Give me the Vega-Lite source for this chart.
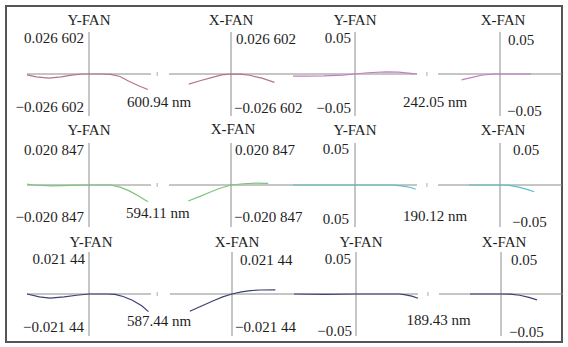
{
"$schema": "https://vega.github.io/schema/vega-lite/v6.json",
"width": 556, "height": 336,
"autosize": {"type": "none"},
"padding": {"left": 6, "top": 6, "right": 6, "bottom": 5},
"background": "white",
"datasets": {
"panels": [
{"panel":"1a","fan":"Y-FAN","ymax":0.026602,"ymin":-0.026602,"top":"0.026 602","bottom":"−0.026 602","wave":"600.94 nm"},
{"panel":"1b","fan":"X-FAN","ymax":0.026602,"ymin":-0.026602,"top":"0.026 602","bottom":"−0.026 602"},
{"panel":"1c","fan":"Y-FAN","ymax":0.05,"ymin":-0.05,"top":"0.05","bottom":"−0.05","wave":"242.05 nm"},
{"panel":"1d","fan":"X-FAN","ymax":0.05,"ymin":-0.05,"top":"0.05","bottom":"−0.05"},
{"panel":"2a","fan":"Y-FAN","ymax":0.020847,"ymin":-0.020847,"top":"0.020 847","bottom":"−0.020 847","wave":"594.11 nm"},
{"panel":"2b","fan":"X-FAN","ymax":0.020847,"ymin":-0.020847,"top":"0.020 847","bottom":"−0.020 847"},
{"panel":"2c","fan":"Y-FAN","ymax":0.05,"ymin":-0.05,"top":"0.05","bottom":"0.05","wave":"190.12 nm"},
{"panel":"2d","fan":"X-FAN","ymax":0.05,"ymin":-0.05,"top":"0.05","bottom":"−0.05"},
{"panel":"3a","fan":"Y-FAN","ymax":0.02144,"ymin":-0.02144,"top":"0.021 44","bottom":"−0.021 44","wave":"587.44 nm"},
{"panel":"3b","fan":"X-FAN","ymax":0.02144,"ymin":-0.02144,"top":"0.021 44","bottom":"−0.021 44"},
{"panel":"3c","fan":"Y-FAN","ymax":0.05,"ymin":-0.05,"top":"0.05","bottom":"−0.05","wave":"189.43 nm"},
{"panel":"3d","fan":"X-FAN","ymax":0.05,"ymin":-0.05,"top":"0.05","bottom":"−0.05"}
],
"curves": [
{"panel":"1a","px":-1,"ey":-0.00053},{"panel":"1a","px":-0.85,"ey":-0.00186},{"panel":"1a","px":-0.65,"ey":-0.00266},{"panel":"1a","px":-0.45,"ey":-0.00186},{"panel":"1a","px":-0.25,"ey":-0.00053},{"panel":"1a","px":-0.1,"ey":0},{"panel":"1a","px":0,"ey":0},{"panel":"1a","px":0.2,"ey":0},{"panel":"1a","px":0.35,"ey":-0.00027},{"panel":"1a","px":0.5,"ey":-0.0016},{"panel":"1a","px":0.65,"ey":-0.00479},{"panel":"1a","px":0.8,"ey":-0.00745},{"panel":"1a","px":0.95,"ey":-0.00984},
{"panel":"1b","px":-0.68,"ey":-0.00638},{"panel":"1b","px":-0.5,"ey":-0.00426},{"panel":"1b","px":-0.3,"ey":-0.00213},{"panel":"1b","px":-0.15,"ey":-0.00053},{"panel":"1b","px":0,"ey":0},{"panel":"1b","px":0.15,"ey":-0.00013},{"panel":"1b","px":0.3,"ey":-0.0008},{"panel":"1b","px":0.5,"ey":-0.00266},{"panel":"1b","px":0.7,"ey":-0.00532},
{"panel":"1c","px":-1,"ey":-0.0025},{"panel":"1c","px":-0.8,"ey":-0.0025},{"panel":"1c","px":-0.5,"ey":-0.00225},{"panel":"1c","px":-0.2,"ey":-0.00125},{"panel":"1c","px":0,"ey":0},{"panel":"1c","px":0.2,"ey":0.0015},{"panel":"1c","px":0.5,"ey":0.0025},{"panel":"1c","px":0.7,"ey":0.00225},{"panel":"1c","px":0.9,"ey":0.00075},{"panel":"1c","px":1,"ey":0},
{"panel":"1d","px":-0.62,"ey":-0.007},{"panel":"1d","px":-0.45,"ey":-0.004},{"panel":"1d","px":-0.3,"ey":-0.0015},{"panel":"1d","px":-0.1,"ey":0},{"panel":"1d","px":0,"ey":0},{"panel":"1d","px":0.5,"ey":0},
{"panel":"2a","px":-1,"ey":0.00042},{"panel":"2a","px":-0.9,"ey":0},{"panel":"2a","px":-0.6,"ey":-0.00042},{"panel":"2a","px":-0.3,"ey":-0.00021},{"panel":"2a","px":0,"ey":0},{"panel":"2a","px":0.35,"ey":0},{"panel":"2a","px":0.5,"ey":-0.00104},{"panel":"2a","px":0.65,"ey":-0.00292},{"panel":"2a","px":0.8,"ey":-0.00542},{"panel":"2a","px":0.95,"ey":-0.00834},
{"panel":"2b","px":-0.69,"ey":-0.00792},{"panel":"2b","px":-0.5,"ey":-0.00563},{"panel":"2b","px":-0.35,"ey":-0.00375},{"panel":"2b","px":-0.2,"ey":-0.00188},{"panel":"2b","px":0,"ey":0},{"panel":"2b","px":0.2,"ey":0.00063},{"panel":"2b","px":0.4,"ey":0.00094},{"panel":"2b","px":0.6,"ey":0.00083},
{"panel":"2c","px":-1,"ey":0},{"panel":"2c","px":0,"ey":0},{"panel":"2c","px":0.6,"ey":0},{"panel":"2c","px":0.75,"ey":-0.001},{"panel":"2c","px":0.9,"ey":-0.003},{"panel":"2c","px":0.98,"ey":-0.005},
{"panel":"2d","px":-0.5,"ey":0},{"panel":"2d","px":0,"ey":0},{"panel":"2d","px":0.15,"ey":-0.0005},{"panel":"2d","px":0.3,"ey":-0.0025},{"panel":"2d","px":0.45,"ey":-0.0055},{"panel":"2d","px":0.55,"ey":-0.008},
{"panel":"3a","px":-1,"ey":0},{"panel":"3a","px":-0.8,"ey":-0.0015},{"panel":"3a","px":-0.63,"ey":-0.00214},{"panel":"3a","px":-0.4,"ey":-0.0015},{"panel":"3a","px":-0.2,"ey":-0.00064},{"panel":"3a","px":0,"ey":0},{"panel":"3a","px":0.3,"ey":0},{"panel":"3a","px":0.42,"ey":-0.00021},{"panel":"3a","px":0.55,"ey":-0.00129},{"panel":"3a","px":0.7,"ey":-0.00322},{"panel":"3a","px":0.85,"ey":-0.006},{"panel":"3a","px":0.96,"ey":-0.009},
{"panel":"3b","px":-0.68,"ey":-0.00879},{"panel":"3b","px":-0.5,"ey":-0.00622},{"panel":"3b","px":-0.3,"ey":-0.00343},{"panel":"3b","px":-0.15,"ey":-0.0015},{"panel":"3b","px":0,"ey":0},{"panel":"3b","px":0.15,"ey":0.00107},{"panel":"3b","px":0.3,"ey":0.00172},{"panel":"3b","px":0.45,"ey":0.00204},{"panel":"3b","px":0.7,"ey":0.00214},
{"panel":"3c","px":-1,"ey":0},{"panel":"3c","px":-0.5,"ey":-0.0005},{"panel":"3c","px":0,"ey":0},{"panel":"3c","px":0.7,"ey":0},{"panel":"3c","px":0.8,"ey":-0.001},{"panel":"3c","px":0.9,"ey":-0.0025},{"panel":"3c","px":1,"ey":-0.005},
{"panel":"3d","px":-0.5,"ey":0},{"panel":"3d","px":0,"ey":0},{"panel":"3d","px":0.15,"ey":-0.00025},{"panel":"3d","px":0.3,"ey":-0.0015},{"panel":"3d","px":0.45,"ey":-0.004},{"panel":"3d","px":0.58,"ey":-0.007}
]
},
"layer": [
{"data":{"name":"panels"},"transform":[{"filter":"datum.panel=='1a'"}],"layer":[
 {"mark":{"type":"rule","color":"#8c8c8c"},"encoding":{"x":{"datum":-1,"type":"quantitative","scale":{"domain":[-1,1],"range":[21,145],"nice":false}},"x2":{"datum":1},"y":{"datum":0,"type":"quantitative","scale":{"domain":[-0.026602,0.026602],"range":[110,26],"nice":false}}}},
 {"mark":{"type":"rule","color":"#8c8c8c"},"encoding":{"x":{"datum":0},"y":{"field":"ymin","type":"quantitative"},"y2":{"field":"ymax"}}},
 {"mark":{"type":"tick","orient":"vertical","size":4,"thickness":1,"color":"#888888"},"encoding":{"x":{"datum":1.1},"y":{"datum":0}}},
 {"data":{"name":"curves"},"transform":[{"filter":"datum.panel=='1a'"}],"mark":{"type":"line","color":"#b5738a","strokeWidth":1.2},"encoding":{"x":{"field":"px","type":"quantitative"},"y":{"field":"ey","type":"quantitative"}}},
 {"mark":{"type":"text","dy":-12},"encoding":{"x":{"datum":0},"y":{"field":"ymax","type":"quantitative"},"text":{"field":"fan"}}},
 {"mark":{"type":"text","align":"right","dx":-5,"dy":6},"encoding":{"x":{"datum":0},"y":{"field":"ymax","type":"quantitative"},"text":{"field":"top"}}},
 {"mark":{"type":"text","align":"right","dx":-5,"dy":-9},"encoding":{"x":{"datum":0},"y":{"field":"ymin","type":"quantitative"},"text":{"field":"bottom"}}},
 {"mark":{"type":"text","dy":-14},"encoding":{"x":{"datum":1.13},"y":{"field":"ymin","type":"quantitative"},"text":{"field":"wave"}}}
]},
{"data":{"name":"panels"},"transform":[{"filter":"datum.panel=='1b'"}],"layer":[
 {"mark":{"type":"rule","color":"#8c8c8c"},"encoding":{"x":{"datum":-1,"type":"quantitative","scale":{"domain":[-1,1],"range":[163,287],"nice":false}},"x2":{"datum":1},"y":{"datum":0,"type":"quantitative","scale":{"domain":[-0.026602,0.026602],"range":[110,26],"nice":false}}}},
 {"mark":{"type":"rule","color":"#8c8c8c"},"encoding":{"x":{"datum":0},"y":{"field":"ymin","type":"quantitative"},"y2":{"field":"ymax"}}},
 {"data":{"name":"curves"},"transform":[{"filter":"datum.panel=='1b'"}],"mark":{"type":"line","color":"#b5738a","strokeWidth":1.2},"encoding":{"x":{"field":"px","type":"quantitative"},"y":{"field":"ey","type":"quantitative"}}},
 {"mark":{"type":"text","dy":-12},"encoding":{"x":{"datum":0},"y":{"field":"ymax","type":"quantitative"},"text":{"field":"fan"}}},
 {"mark":{"type":"text","align":"left","dx":5,"dy":7},"encoding":{"x":{"datum":0},"y":{"field":"ymax","type":"quantitative"},"text":{"field":"top"}}},
 {"mark":{"type":"text","align":"left","dx":3,"dy":-8},"encoding":{"x":{"datum":0},"y":{"field":"ymin","type":"quantitative"},"text":{"field":"bottom"}}}
]},
{"data":{"name":"panels"},"transform":[{"filter":"datum.panel=='1c'"}],"layer":[
 {"mark":{"type":"rule","color":"#8c8c8c"},"encoding":{"x":{"datum":-1,"type":"quantitative","scale":{"domain":[-1,1],"range":[287,411],"nice":false}},"x2":{"datum":1},"y":{"datum":0,"type":"quantitative","scale":{"domain":[-0.05,0.05],"range":[110,26],"nice":false}}}},
 {"mark":{"type":"rule","color":"#8c8c8c"},"encoding":{"x":{"datum":0},"y":{"field":"ymin","type":"quantitative"},"y2":{"field":"ymax"}}},
 {"mark":{"type":"tick","orient":"vertical","size":4,"thickness":1,"color":"#888888"},"encoding":{"x":{"datum":1.16},"y":{"datum":0}}},
 {"data":{"name":"curves"},"transform":[{"filter":"datum.panel=='1c'"}],"mark":{"type":"line","color":"#c27fc0","strokeWidth":1.2},"encoding":{"x":{"field":"px","type":"quantitative"},"y":{"field":"ey","type":"quantitative"}}},
 {"mark":{"type":"text","dy":-12},"encoding":{"x":{"datum":0},"y":{"field":"ymax","type":"quantitative"},"text":{"field":"fan"}}},
 {"mark":{"type":"text","align":"right","dx":-4,"dy":6},"encoding":{"x":{"datum":0},"y":{"field":"ymax","type":"quantitative"},"text":{"field":"top"}}},
 {"mark":{"type":"text","align":"right","dx":-4,"dy":-8},"encoding":{"x":{"datum":0},"y":{"field":"ymin","type":"quantitative"},"text":{"field":"bottom"}}},
 {"mark":{"type":"text","dy":-14},"encoding":{"x":{"datum":1.29},"y":{"field":"ymin","type":"quantitative"},"text":{"field":"wave"}}}
]},
{"data":{"name":"panels"},"transform":[{"filter":"datum.panel=='1d'"}],"layer":[
 {"mark":{"type":"rule","color":"#8c8c8c"},"encoding":{"x":{"datum":-1,"type":"quantitative","scale":{"domain":[-1,1],"range":[432,556],"nice":false}},"x2":{"datum":1},"y":{"datum":0,"type":"quantitative","scale":{"domain":[-0.05,0.05],"range":[110,26],"nice":false}}}},
 {"mark":{"type":"rule","color":"#8c8c8c"},"encoding":{"x":{"datum":0},"y":{"field":"ymin","type":"quantitative"},"y2":{"field":"ymax"}}},
 {"data":{"name":"curves"},"transform":[{"filter":"datum.panel=='1d'"}],"mark":{"type":"line","color":"#c27fc0","strokeWidth":1.2},"encoding":{"x":{"field":"px","type":"quantitative"},"y":{"field":"ey","type":"quantitative"}}},
 {"mark":{"type":"text","dy":-12,"dx":3},"encoding":{"x":{"datum":0},"y":{"field":"ymax","type":"quantitative"},"text":{"field":"fan"}}},
 {"mark":{"type":"text","align":"left","dx":8,"dy":8},"encoding":{"x":{"datum":0},"y":{"field":"ymax","type":"quantitative"},"text":{"field":"top"}}},
 {"mark":{"type":"text","align":"left","dx":7,"dy":-5},"encoding":{"x":{"datum":0},"y":{"field":"ymin","type":"quantitative"},"text":{"field":"bottom"}}}
]},
{"data":{"name":"panels"},"transform":[{"filter":"datum.panel=='2a'"}],"layer":[
 {"mark":{"type":"rule","color":"#8c8c8c"},"encoding":{"x":{"datum":-1,"type":"quantitative","scale":{"domain":[-1,1],"range":[21,145],"nice":false}},"x2":{"datum":1},"y":{"datum":0,"type":"quantitative","scale":{"domain":[-0.020847,0.020847],"range":[221,137],"nice":false}}}},
 {"mark":{"type":"rule","color":"#8c8c8c"},"encoding":{"x":{"datum":0},"y":{"field":"ymin","type":"quantitative"},"y2":{"field":"ymax"}}},
 {"mark":{"type":"tick","orient":"vertical","size":4,"thickness":1,"color":"#888888"},"encoding":{"x":{"datum":1.1},"y":{"datum":0}}},
 {"data":{"name":"curves"},"transform":[{"filter":"datum.panel=='2a'"}],"mark":{"type":"line","color":"#7cc47c","strokeWidth":1.2},"encoding":{"x":{"field":"px","type":"quantitative"},"y":{"field":"ey","type":"quantitative"}}},
 {"mark":{"type":"text","dy":-13},"encoding":{"x":{"datum":0},"y":{"field":"ymax","type":"quantitative"},"text":{"field":"fan"}}},
 {"mark":{"type":"text","align":"right","dx":-5,"dy":7},"encoding":{"x":{"datum":0},"y":{"field":"ymax","type":"quantitative"},"text":{"field":"top"}}},
 {"mark":{"type":"text","align":"right","dx":-5,"dy":-10},"encoding":{"x":{"datum":0},"y":{"field":"ymin","type":"quantitative"},"text":{"field":"bottom"}}},
 {"mark":{"type":"text","dy":-14},"encoding":{"x":{"datum":1.11},"y":{"field":"ymin","type":"quantitative"},"text":{"field":"wave"}}}
]},
{"data":{"name":"panels"},"transform":[{"filter":"datum.panel=='2b'"}],"layer":[
 {"mark":{"type":"rule","color":"#8c8c8c"},"encoding":{"x":{"datum":-1,"type":"quantitative","scale":{"domain":[-1,1],"range":[163,287],"nice":false}},"x2":{"datum":1},"y":{"datum":0,"type":"quantitative","scale":{"domain":[-0.020847,0.020847],"range":[221,137],"nice":false}}}},
 {"mark":{"type":"rule","color":"#8c8c8c"},"encoding":{"x":{"datum":0},"y":{"field":"ymin","type":"quantitative"},"y2":{"field":"ymax"}}},
 {"data":{"name":"curves"},"transform":[{"filter":"datum.panel=='2b'"}],"mark":{"type":"line","color":"#7cc47c","strokeWidth":1.2},"encoding":{"x":{"field":"px","type":"quantitative"},"y":{"field":"ey","type":"quantitative"}}},
 {"mark":{"type":"text","dy":-14,"dx":2},"encoding":{"x":{"datum":0},"y":{"field":"ymax","type":"quantitative"},"text":{"field":"fan"}}},
 {"mark":{"type":"text","align":"left","dx":4,"dy":7},"encoding":{"x":{"datum":0},"y":{"field":"ymax","type":"quantitative"},"text":{"field":"top"}}},
 {"mark":{"type":"text","align":"left","dx":3,"dy":-10},"encoding":{"x":{"datum":0},"y":{"field":"ymin","type":"quantitative"},"text":{"field":"bottom"}}}
]},
{"data":{"name":"panels"},"transform":[{"filter":"datum.panel=='2c'"}],"layer":[
 {"mark":{"type":"rule","color":"#8c8c8c"},"encoding":{"x":{"datum":-1,"type":"quantitative","scale":{"domain":[-1,1],"range":[287,411],"nice":false}},"x2":{"datum":1},"y":{"datum":0,"type":"quantitative","scale":{"domain":[-0.05,0.05],"range":[221,137],"nice":false}}}},
 {"mark":{"type":"rule","color":"#8c8c8c"},"encoding":{"x":{"datum":0},"y":{"field":"ymin","type":"quantitative"},"y2":{"field":"ymax"}}},
 {"mark":{"type":"tick","orient":"vertical","size":4,"thickness":1,"color":"#888888"},"encoding":{"x":{"datum":1.16},"y":{"datum":0}}},
 {"data":{"name":"curves"},"transform":[{"filter":"datum.panel=='2c'"}],"mark":{"type":"line","color":"#5cbfc6","strokeWidth":1.2},"encoding":{"x":{"field":"px","type":"quantitative"},"y":{"field":"ey","type":"quantitative"}}},
 {"mark":{"type":"text","dy":-13},"encoding":{"x":{"datum":0},"y":{"field":"ymax","type":"quantitative"},"text":{"field":"fan"}}},
 {"mark":{"type":"text","align":"right","dx":-6,"dy":6},"encoding":{"x":{"datum":0},"y":{"field":"ymax","type":"quantitative"},"text":{"field":"top"}}},
 {"mark":{"type":"text","align":"right","dx":-6,"dy":-8},"encoding":{"x":{"datum":0},"y":{"field":"ymin","type":"quantitative"},"text":{"field":"bottom"}}},
 {"mark":{"type":"text","dy":-11},"encoding":{"x":{"datum":1.29},"y":{"field":"ymin","type":"quantitative"},"text":{"field":"wave"}}}
]},
{"data":{"name":"panels"},"transform":[{"filter":"datum.panel=='2d'"}],"layer":[
 {"mark":{"type":"rule","color":"#8c8c8c"},"encoding":{"x":{"datum":-1,"type":"quantitative","scale":{"domain":[-1,1],"range":[432,556],"nice":false}},"x2":{"datum":1},"y":{"datum":0,"type":"quantitative","scale":{"domain":[-0.05,0.05],"range":[221,137],"nice":false}}}},
 {"mark":{"type":"rule","color":"#8c8c8c"},"encoding":{"x":{"datum":0},"y":{"field":"ymin","type":"quantitative"},"y2":{"field":"ymax"}}},
 {"data":{"name":"curves"},"transform":[{"filter":"datum.panel=='2d'"}],"mark":{"type":"line","color":"#5cbfc6","strokeWidth":1.2},"encoding":{"x":{"field":"px","type":"quantitative"},"y":{"field":"ey","type":"quantitative"}}},
 {"mark":{"type":"text","dy":-13,"dx":3},"encoding":{"x":{"datum":0},"y":{"field":"ymax","type":"quantitative"},"text":{"field":"fan"}}},
 {"mark":{"type":"text","align":"left","dx":13,"dy":7},"encoding":{"x":{"datum":0},"y":{"field":"ymax","type":"quantitative"},"text":{"field":"top"}}},
 {"mark":{"type":"text","align":"left","dx":12,"dy":-5},"encoding":{"x":{"datum":0},"y":{"field":"ymin","type":"quantitative"},"text":{"field":"bottom"}}}
]},
{"data":{"name":"panels"},"transform":[{"filter":"datum.panel=='3a'"}],"layer":[
 {"mark":{"type":"rule","color":"#8c8c8c"},"encoding":{"x":{"datum":-1,"type":"quantitative","scale":{"domain":[-1,1],"range":[21,145],"nice":false}},"x2":{"datum":1},"y":{"datum":0,"type":"quantitative","scale":{"domain":[-0.02144,0.02144],"range":[330,246],"nice":false}}}},
 {"mark":{"type":"rule","color":"#8c8c8c"},"encoding":{"x":{"datum":0},"y":{"field":"ymin","type":"quantitative"},"y2":{"field":"ymax"}}},
 {"mark":{"type":"tick","orient":"vertical","size":4,"thickness":1,"color":"#888888"},"encoding":{"x":{"datum":1.1},"y":{"datum":0}}},
 {"data":{"name":"curves"},"transform":[{"filter":"datum.panel=='3a'"}],"mark":{"type":"line","color":"#3d4074","strokeWidth":1.2},"encoding":{"x":{"field":"px","type":"quantitative"},"y":{"field":"ey","type":"quantitative"}}},
 {"mark":{"type":"text","dy":-10,"dx":2},"encoding":{"x":{"datum":0},"y":{"field":"ymax","type":"quantitative"},"text":{"field":"fan"}}},
 {"mark":{"type":"text","align":"right","dx":-4,"dy":7},"encoding":{"x":{"datum":0},"y":{"field":"ymax","type":"quantitative"},"text":{"field":"top"}}},
 {"mark":{"type":"text","align":"right","dx":-5,"dy":-9},"encoding":{"x":{"datum":0},"y":{"field":"ymin","type":"quantitative"},"text":{"field":"bottom"}}},
 {"mark":{"type":"text","dy":-15},"encoding":{"x":{"datum":1.13},"y":{"field":"ymin","type":"quantitative"},"text":{"field":"wave"}}}
]},
{"data":{"name":"panels"},"transform":[{"filter":"datum.panel=='3b'"}],"layer":[
 {"mark":{"type":"rule","color":"#8c8c8c"},"encoding":{"x":{"datum":-1,"type":"quantitative","scale":{"domain":[-1,1],"range":[164,288],"nice":false}},"x2":{"datum":1},"y":{"datum":0,"type":"quantitative","scale":{"domain":[-0.02144,0.02144],"range":[330,246],"nice":false}}}},
 {"mark":{"type":"rule","color":"#8c8c8c"},"encoding":{"x":{"datum":0},"y":{"field":"ymin","type":"quantitative"},"y2":{"field":"ymax"}}},
 {"data":{"name":"curves"},"transform":[{"filter":"datum.panel=='3b'"}],"mark":{"type":"line","color":"#3d4074","strokeWidth":1.2},"encoding":{"x":{"field":"px","type":"quantitative"},"y":{"field":"ey","type":"quantitative"}}},
 {"mark":{"type":"text","dy":-10,"dx":5},"encoding":{"x":{"datum":0},"y":{"field":"ymax","type":"quantitative"},"text":{"field":"fan"}}},
 {"mark":{"type":"text","align":"left","dx":8,"dy":8},"encoding":{"x":{"datum":0},"y":{"field":"ymax","type":"quantitative"},"text":{"field":"top"}}},
 {"mark":{"type":"text","align":"left","dx":3,"dy":-9},"encoding":{"x":{"datum":0},"y":{"field":"ymin","type":"quantitative"},"text":{"field":"bottom"}}}
]},
{"data":{"name":"panels"},"transform":[{"filter":"datum.panel=='3c'"}],"layer":[
 {"mark":{"type":"rule","color":"#8c8c8c"},"encoding":{"x":{"datum":-1,"type":"quantitative","scale":{"domain":[-1,1],"range":[288,412],"nice":false}},"x2":{"datum":1},"y":{"datum":0,"type":"quantitative","scale":{"domain":[-0.05,0.05],"range":[330,246],"nice":false}}}},
 {"mark":{"type":"rule","color":"#8c8c8c"},"encoding":{"x":{"datum":0},"y":{"field":"ymin","type":"quantitative"},"y2":{"field":"ymax"}}},
 {"mark":{"type":"tick","orient":"vertical","size":4,"thickness":1,"color":"#888888"},"encoding":{"x":{"datum":1.16},"y":{"datum":0}}},
 {"data":{"name":"curves"},"transform":[{"filter":"datum.panel=='3c'"}],"mark":{"type":"line","color":"#3d4074","strokeWidth":1.2},"encoding":{"x":{"field":"px","type":"quantitative"},"y":{"field":"ey","type":"quantitative"}}},
 {"mark":{"type":"text","dy":-10,"dx":5},"encoding":{"x":{"datum":0},"y":{"field":"ymax","type":"quantitative"},"text":{"field":"fan"}}},
 {"mark":{"type":"text","align":"right","dx":-5,"dy":7},"encoding":{"x":{"datum":0},"y":{"field":"ymax","type":"quantitative"},"text":{"field":"top"}}},
 {"mark":{"type":"text","align":"right","dx":-4,"dy":-5},"encoding":{"x":{"datum":0},"y":{"field":"ymin","type":"quantitative"},"text":{"field":"bottom"}}},
 {"mark":{"type":"text","dy":-16},"encoding":{"x":{"datum":1.33},"y":{"field":"ymin","type":"quantitative"},"text":{"field":"wave"}}}
]},
{"data":{"name":"panels"},"transform":[{"filter":"datum.panel=='3d'"}],"layer":[
 {"mark":{"type":"rule","color":"#8c8c8c"},"encoding":{"x":{"datum":-1,"type":"quantitative","scale":{"domain":[-1,1],"range":[433,557],"nice":false}},"x2":{"datum":1},"y":{"datum":0,"type":"quantitative","scale":{"domain":[-0.05,0.05],"range":[330,246],"nice":false}}}},
 {"mark":{"type":"rule","color":"#8c8c8c"},"encoding":{"x":{"datum":0},"y":{"field":"ymin","type":"quantitative"},"y2":{"field":"ymax"}}},
 {"data":{"name":"curves"},"transform":[{"filter":"datum.panel=='3d'"}],"mark":{"type":"line","color":"#3d4074","strokeWidth":1.2},"encoding":{"x":{"field":"px","type":"quantitative"},"y":{"field":"ey","type":"quantitative"}}},
 {"mark":{"type":"text","dy":-10,"dx":3},"encoding":{"x":{"datum":0},"y":{"field":"ymax","type":"quantitative"},"text":{"field":"fan"}}},
 {"mark":{"type":"text","align":"left","dx":10,"dy":8},"encoding":{"x":{"datum":0},"y":{"field":"ymax","type":"quantitative"},"text":{"field":"top"}}},
 {"mark":{"type":"text","align":"left","dx":8,"dy":-4},"encoding":{"x":{"datum":0},"y":{"field":"ymin","type":"quantitative"},"text":{"field":"bottom"}}}
]}
],
"resolve": {"scale": {"x": "independent", "y": "independent"}},
"config": {
 "view": {"stroke": "#555555", "strokeWidth": 2},
 "axis": {"disable": true},
 "text": {"font": "Liberation Serif", "fontSize": 15, "fill": "#1e1e1e"}
}
}
